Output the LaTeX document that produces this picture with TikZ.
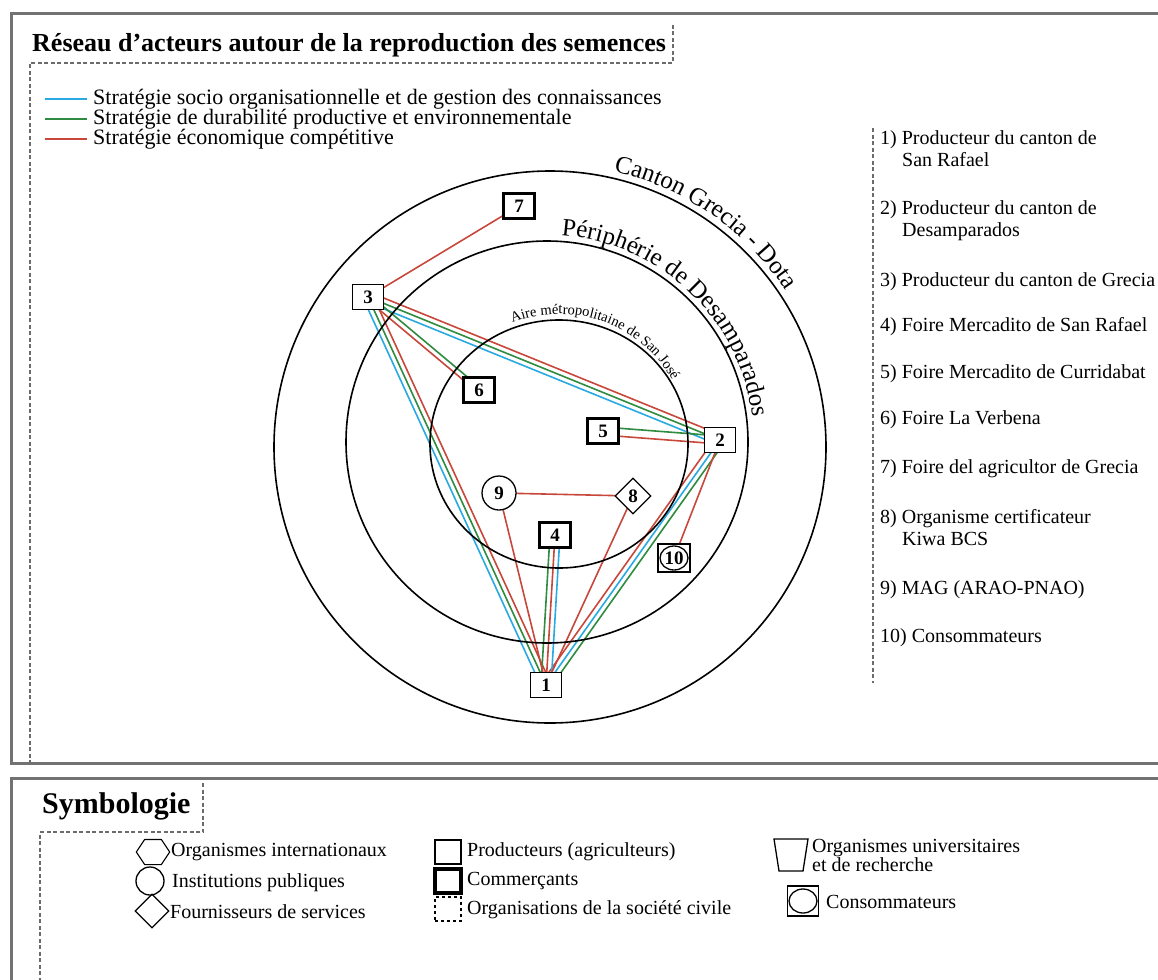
\documentclass[tikz,border=0pt]{standalone}
\usepackage{fontspec}
\setmainfont{Liberation Serif}
\usepackage{tikz}
\usetikzlibrary{
  shapes.geometric,
  positioning,
  calc,
  backgrounds,
  decorations.text
}
\definecolor{rsFrame}{HTML}{727272}
\definecolor{rsDash}{HTML}{6B6B6B}
\definecolor{rsSocio}{HTML}{29A9E1}
\definecolor{rsDurable}{HTML}{2F8B3F}
\definecolor{rsEco}{HTML}{C8473B}
\newcommand{\rsfont}[1]{\fontsize{#1}{#1}\selectfont}
% one strategy line between two actors, shifted sideways by #2
\newcommand{\strat}[4]{\draw[stline, #1] ($(#3)!#2!90:(#4)$) -- ($(#4)!#2!-90:(#3)$);}
\tikzset{
  panel/.style={draw=rsFrame, line width=3pt},
  zonedash/.style={draw=rsDash, line width=2.4pt, dash pattern=on 4pt off 2.5pt},
  ring/.style={draw, line width=1.6pt},
  actor/.style={
    draw, fill=white, line width=1.3pt, inner sep=0pt,
    minimum width=31pt, minimum height=25pt, font=\rsfont{19}\bfseries
  },
  prod/.style={actor},
  comm/.style={actor, line width=3.2pt},
  inst/.style={actor, circle, minimum size=34pt},
  serv/.style={actor, diamond, minimum width=36pt, minimum height=36pt},
  cons/.style={actor, minimum width=32pt, minimum height=28pt,
    path picture={\draw[line width=1.3pt] (path picture bounding box.center) ellipse (14pt and 12pt);}},
  stline/.style={line width=1.6pt},
  swatch/.style={line width=2.2pt, shorten >=5pt},
  legtext/.style={anchor=west, font=\rsfont{22}, inner sep=1pt},
  listtext/.style={anchor=west, font=\fontsize{20}{22}\selectfont, align=left, inner sep=0pt},
  symtext/.style={anchor=west, font=\fontsize{20}{19}\selectfont, align=left, inner sep=0pt},
  symbox/.style={draw, line width=1.3pt, minimum width=26pt, minimum height=24pt, inner sep=0pt}
}
\begin{document}
\begin{tikzpicture}[x=1pt, y=1pt]
  \useasboundingbox (0,0) rectangle (1158,-979);
  % panels
  \draw[panel] (11,-14) rectangle (1185,-763);
  \draw[panel] (11,-778) rectangle (1185,-1000);

  % title
  \node[anchor=west, font=\rsfont{26}\bfseries, inner sep=0pt] (title) at (32,-45)
    {Réseau d'acteurs autour de la reproduction des semences};
  \draw[zonedash] (673,-25) -- (673,-63) -- (30,-63) -- (30,-763);

  % strategies legend
  \coordinate (swsocio) at (45,-99);
  \coordinate (swdurable) at (45,-119);
  \coordinate (sweco) at (45,-139);
  \node[legtext] (legsocio) at (92,-99) {Stratégie socio organisationnelle et de gestion des connaissances};
  \node[legtext] (legdurable) at (92,-119) {Stratégie de durabilité productive et environnementale};
  \node[legtext] (legeco) at (92,-139) {Stratégie économique compétitive};
  \draw[swatch, rsSocio] (swsocio) -- (legsocio.west);
  \draw[swatch, rsDurable] (swdurable) -- (legdurable.west);
  \draw[swatch, rsEco] (sweco) -- (legeco.west);

  % rings
  \draw[ring] (550,-447) circle[radius=276];
  \draw[ring] (547,-442) circle[radius=201];
  \draw[ring] (559,-444) ellipse[x radius=129, y radius=124];
  \path[decorate, decoration={text along path, text align=left,
      text={|\rsfont{25}|Canton Grecia - Dota}}]
    (550,-447) ++(77:283) arc[start angle=77, end angle=5, radius=283];
  \path[decorate, decoration={text along path, text align=left,
      text={|\rsfont{25}|Périphérie de Desamparados}}]
    (547,-442) ++(86:207) arc[start angle=86, end angle=-10, radius=207];
  \path[decorate, decoration={text along path, text align=left,
      text={|\rsfont{14.5}|Aire métropolitaine de San José}}]
    (559,-444) ++(111:130) arc[start angle=111, end angle=5, radius=130];

  % actors
  \node[prod] (n1) at (546,-685) {1};
  \node[prod] (n2) at (720,-440) {2};
  \node[prod] (n3) at (368,-297) {3};
  \node[comm] (n4) at (555,-535) {4};
  \node[comm] (n5) at (603,-431) {5};
  \node[comm] (n6) at (479,-390) {6};
  \node[comm] (n7) at (519,-206) {7};
  \node[serv] (n8) at (633,-496) {8};
  \node[inst] (n9) at (499,-493) {9};
  \node[cons] (n10) at (674,-558) {10};

  \begin{scope}[on background layer]
    \strat{rsEco}{0pt}{n3}{n7}
    \strat{rsEco}{5pt}{n3}{n2}
    \strat{rsDurable}{0pt}{n3}{n2}
    \strat{rsSocio}{-5pt}{n3}{n2}
    \strat{rsDurable}{2.5pt}{n3}{n6}
    \strat{rsEco}{-2.5pt}{n3}{n6}
    \strat{rsSocio}{-5pt}{n3}{n1}
    \strat{rsDurable}{0pt}{n3}{n1}
    \strat{rsEco}{5pt}{n3}{n1}
    \strat{rsDurable}{-4pt}{n2}{n5}
    \strat{rsEco}{4pt}{n2}{n5}
    \strat{rsEco}{-5pt}{n2}{n1}
    \strat{rsSocio}{0pt}{n2}{n1}
    \strat{rsDurable}{5pt}{n2}{n1}
    \strat{rsEco}{0pt}{n2}{n10}
    \strat{rsDurable}{-5pt}{n4}{n1}
    \strat{rsEco}{0pt}{n4}{n1}
    \strat{rsSocio}{5pt}{n4}{n1}
    \strat{rsEco}{0pt}{n9}{n8}
    \strat{rsEco}{0pt}{n9}{n1}
    \strat{rsEco}{0pt}{n8}{n1}
  \end{scope}

  % actor list
  \draw[zonedash] (873,-128) -- (873,-683);
  \node[listtext] (it1) at (880,-149) {1) Producteur du canton de\\\hspace*{22pt}San Rafael};
  \node[listtext] (it2) at (880,-221) {2) Producteur du canton de\\\hspace*{22pt}Desamparados};
  \node[listtext] (it3) at (880,-282) {3) Producteur du canton de Grecia};
  \node[listtext] (it4) at (880,-327) {4) Foire Mercadito de San Rafael};
  \node[listtext] (it5) at (880,-374) {5) Foire Mercadito de Curridabat};
  \node[listtext] (it6) at (880,-420) {6) Foire La Verbena};
  \node[listtext] (it7) at (880,-469) {7) Foire del agricultor de Grecia};
  \node[listtext] (it8) at (880,-528) {8) Organisme certificateur\\\hspace*{22pt}Kiwa BCS};
  \node[listtext] (it9) at (880,-590) {9) MAG (ARAO-PNAO)};
  \node[listtext] (it10) at (880,-638) {10) Consommateurs};

  % symbology
  \node[anchor=west, font=\rsfont{30}\bfseries, inner sep=0pt] (symbtitle) at (42,-806) {Symbologie};
  \draw[zonedash] (203,-783) -- (203,-832) -- (40,-832) -- (40,-985);

  \node[draw, regular polygon, regular polygon sides=6, minimum size=29pt, line width=1.1pt, inner sep=0pt,
    xscale=1.15, transform shape] (syhex) at (153,-852) {};
  \node[draw, circle, minimum size=28pt, line width=1.3pt, inner sep=0pt] (sycirc) at (150,-881) {};
  \node[draw, diamond, minimum width=34pt, minimum height=34pt, line width=1.3pt, inner sep=0pt] (sydiam) at (152,-911) {};
  \node[symtext] (txhex) at (171,-852) {Organismes internationaux};
  \node[symtext] (txcirc) at (172,-883) {Institutions publiques};
  \node[symtext] (txdiam) at (170,-912) {Fournisseurs de services};

  \node[symbox] (syprod) at (448,-852) {};
  \node[symbox, line width=3.2pt] (sycomm) at (448,-881) {};
  \node[symbox, dashed] (sycivil) at (448,-909) {};
  \node[symtext] (txprod) at (467,-852) {Producteurs (agriculteurs)};
  \node[symtext] (txcomm) at (467,-881) {Commerçants};
  \node[symtext] (txcivil) at (467,-910) {Organisations de la société civile};

  \draw[line width=1.3pt] (774,-839) -- (808,-839) -- (803,-871) -- (779,-871) -- cycle;
  \node[cons, minimum width=31pt, minimum height=30pt] (sycons) at (803,-901) {};
  \node[symtext] (txuniv) at (812,-855) {Organismes universitaires\\et de recherche};
  \node[symtext] (txcons) at (826,-902) {Consommateurs};
\end{tikzpicture}
\end{document}
